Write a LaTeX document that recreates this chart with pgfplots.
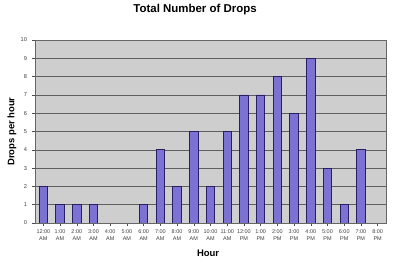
\documentclass[border=0pt]{standalone}
\usepackage{pgfplots}
\pgfplotsset{compat=1.18}
\usepackage{fontspec}
\setmainfont{Liberation Sans}
\definecolor{barfill}{RGB}{124,114,212}
\definecolor{barline}{RGB}{40,30,100}
\definecolor{plotbg}{RGB}{206,206,206}
\definecolor{gridc}{RGB}{95,95,95}
\begin{document}
\begin{tikzpicture}
\path[use as bounding box] (0,0) rectangle (400bp,269bp);
\begin{axis}[
  at={(35bp,46bp)}, anchor=south west,
  scale only axis, width=351bp, height=183bp,
  xmin=-0.5, xmax=20.5, ymin=0, ymax=10,
  xtick={0,...,20},
  xticklabels={{12:00\\AM},{1:00\\AM},{2:00\\AM},{3:00\\AM},{4:00\\AM},{5:00\\AM},{6:00\\AM},{7:00\\AM},{8:00\\AM},{9:00\\AM},{10:00\\AM},{11:00\\AM},{12:00\\PM},{1:00\\PM},{2:00\\PM},{3:00\\PM},{4:00\\PM},{5:00\\PM},{6:00\\PM},{7:00\\PM},{8:00\\PM}},
  ytick={0,...,10},
  xtick pos=bottom, ytick pos=left,
  tick align=outside, major tick length=2.5bp,
  tick style={black!70, line width=0.5pt},
  ymajorgrids, grid style={gridc, line width=0.6pt},
  axis background/.style={fill=plotbg},
  axis line style={black!60, line width=0.6pt},
  /pgf/number format/assume math mode=true,
  xticklabel style={align=center, font=\fontsize{5.5}{6.8}\selectfont, text=black!75, yshift=-1bp},
  yticklabel style={font=\fontsize{5.7}{6.8}\selectfont, text=black!75, xshift=-2bp},
  title={Total Number of Drops},
  title style={at={(axis description cs:0.456,1)}, anchor=base, yshift=22bp, font=\fontsize{11.5}{13}\selectfont\bfseries},
  xlabel={Hour},
  xlabel style={at={(axis description cs:0.493,0)}, anchor=base, yshift=-33bp, font=\fontsize{9.5}{11}\selectfont\bfseries},
  ylabel={Drops per hour},
  ylabel style={at={(axis description cs:-0.066,0.5)}, anchor=center, font=\fontsize{9.5}{11}\selectfont\bfseries},
  ybar, bar width=0.5,
]
\addplot[fill=barfill, draw=barline, line width=0.8pt] coordinates {
 (0,2) (1,1) (2,1) (3,1) (6,1) (7,4) (8,2) (9,5) (10,2) (11,5)
 (12,7) (13,7) (14,8) (15,6) (16,9) (17,3) (18,1) (19,4)
};
\end{axis}
\end{tikzpicture}
\end{document}
